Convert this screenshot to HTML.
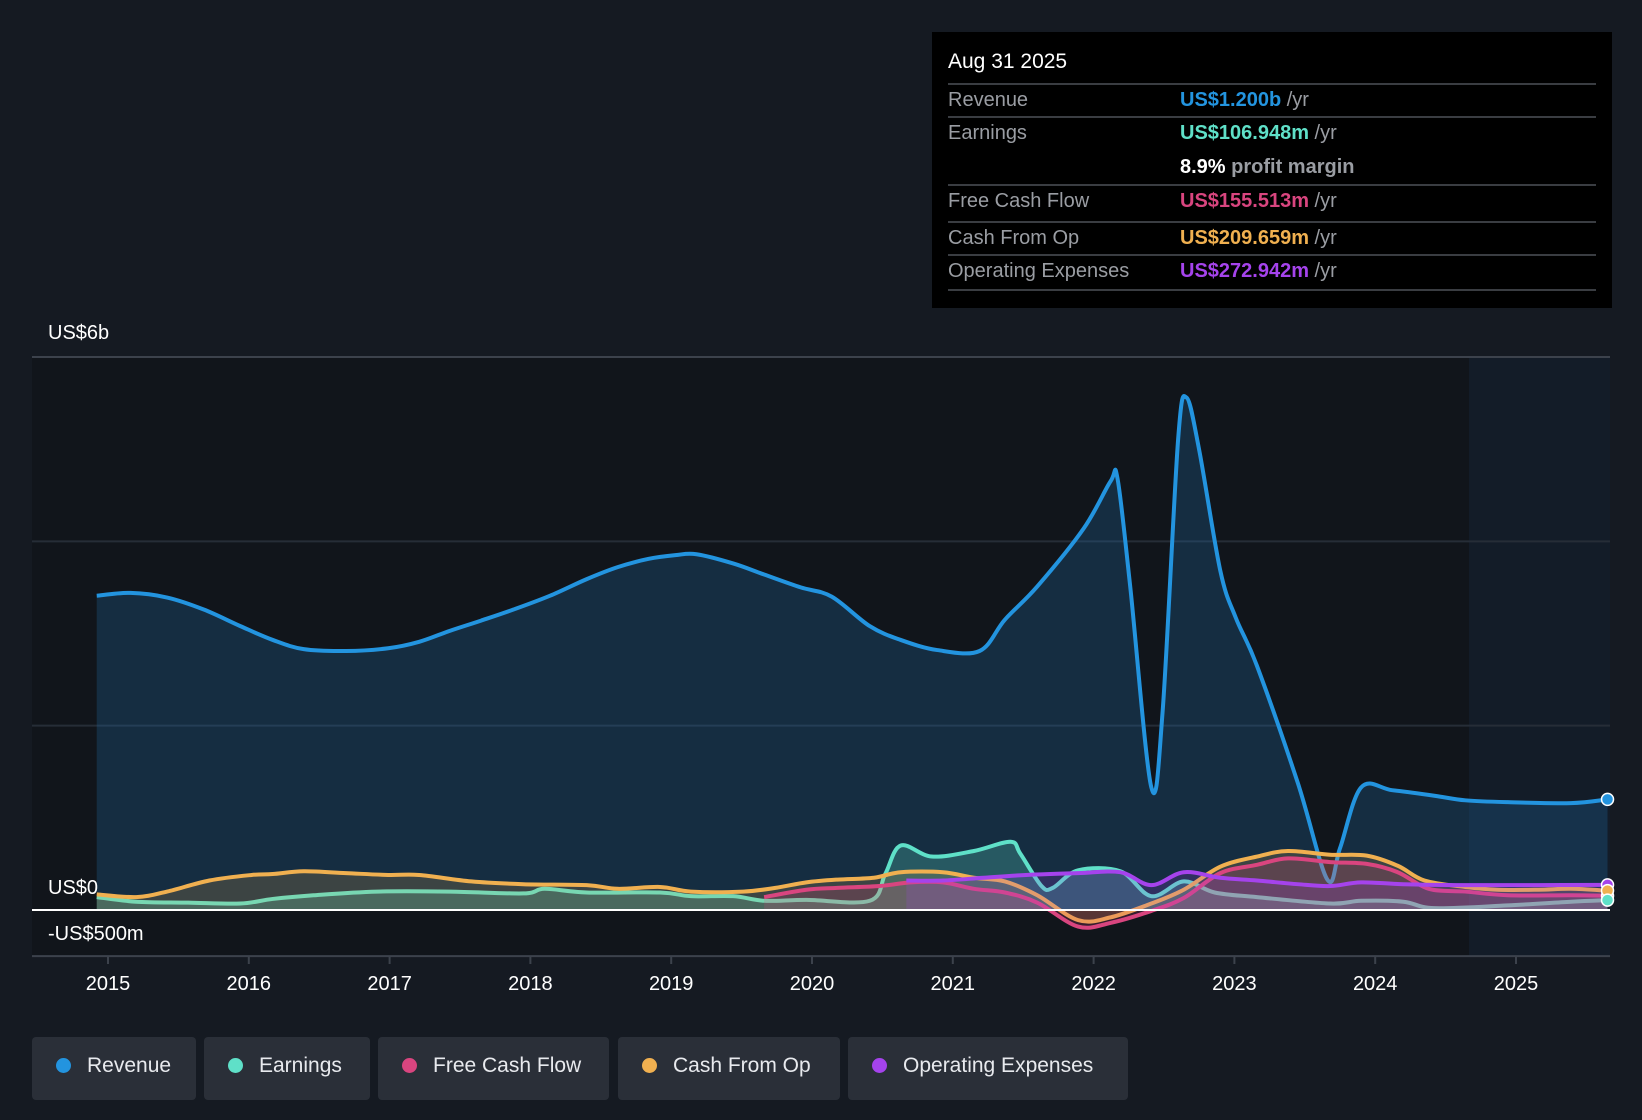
<!DOCTYPE html>
<html><head><meta charset="utf-8"><style>
body{margin:0;background:#151a22;width:1642px;height:1120px;overflow:hidden;font-family:"Liberation Sans",sans-serif;}
#tt{position:absolute;left:932px;top:32px;width:680px;height:276px;background:#000;}
.row{position:absolute;left:16px;width:648px;border-top:2px solid #3a3d42;font-size:20px;color:#9a9da3;}
.lab{position:absolute;left:0;} .val{position:absolute;left:232px;}
.leg{position:absolute;top:1037px;height:63px;background:#2a2f38;border-radius:4px;color:#e8eaee;font-size:21px;line-height:57px;}
.dot{display:inline-block;width:15px;height:15px;border-radius:50%;margin:0 16px 0 24px;vertical-align:-1px;}
</style></head><body>
<svg id="chart" width="1642" height="1120" style="position:absolute;left:0;top:0"></svg>
<div id="tt">
 <div style="position:absolute;left:16px;top:18px;color:#fff;font-size:21px">Aug 31 2025</div>
 <div class="row" style="top:51px;height:32px"><span class="lab" style="top:4px">Revenue</span><span class="val" style="top:4px"><b style="color:#2394df">US$1.200b</b> /yr</span></div>
 <div class="row" style="top:84px;height:66px"><span class="lab" style="top:4px">Earnings</span><span class="val" style="top:4px"><b style="color:#5fe0c8">US$106.948m</b> /yr</span><span class="val" style="top:38px"><b style="color:#fff">8.9%</b> <b>profit margin</b></span></div>
 <div class="row" style="top:152px;height:34px"><span class="lab" style="top:4px">Free Cash Flow</span><span class="val" style="top:4px"><b style="color:#d9457f">US$155.513m</b> /yr</span></div>
 <div class="row" style="top:189px;height:31px"><span class="lab" style="top:4px">Cash From Op</span><span class="val" style="top:4px"><b style="color:#f0b050">US$209.659m</b> /yr</span></div>
 <div class="row" style="top:222px;height:35px"><span class="lab" style="top:4px">Operating Expenses</span><span class="val" style="top:4px"><b style="color:#a543ec">US$272.942m</b> /yr</span></div>
 <div class="row" style="top:257px;height:0"></div>
</div>
<div class="leg" style="left:32px;width:164px"><span class="dot" style="background:#2394df"></span>Revenue</div>
<div class="leg" style="left:204px;width:166px"><span class="dot" style="background:#5fe0c8"></span>Earnings</div>
<div class="leg" style="left:378px;width:231px"><span class="dot" style="background:#d9457f"></span>Free Cash Flow</div>
<div class="leg" style="left:618px;width:222px"><span class="dot" style="background:#f0b050"></span>Cash From Op</div>
<div class="leg" style="left:848px;width:280px"><span class="dot" style="background:#a543ec"></span>Operating Expenses</div>
<script>
const revYears=[2014.92,2015.16,2015.42,2015.68,2015.94,2016.17,2016.39,2016.69,2016.99,2017.21,2017.43,2017.65,2017.88,2018.14,2018.40,2018.62,2018.84,2019.03,2019.18,2019.44,2019.66,2019.92,2020.14,2020.41,2020.63,2020.89,2021.19,2021.37,2021.60,2021.93,2022.12,2022.17,2022.26,2022.41,2022.49,2022.60,2022.66,2022.75,2022.90,2023.01,2023.16,2023.45,2023.66,2023.75,2023.90,2024.12,2024.42,2024.64,2024.94,2025.39,2025.65];
const revValues=[3.41,3.44,3.39,3.26,3.08,2.93,2.83,2.81,2.84,2.91,3.03,3.14,3.26,3.41,3.59,3.72,3.81,3.85,3.86,3.76,3.64,3.50,3.40,3.08,2.93,2.82,2.81,3.15,3.51,4.14,4.65,4.68,3.51,1.33,2.15,5.10,5.56,4.99,3.68,3.17,2.65,1.38,0.33,0.67,1.33,1.30,1.24,1.19,1.17,1.16,1.20];
const earnYears=[2014.92,2015.20,2015.57,2015.94,2016.17,2016.46,2016.91,2017.43,2017.95,2018.10,2018.40,2018.92,2019.14,2019.44,2019.66,2019.96,2020.41,2020.52,2020.63,2020.85,2021.15,2021.41,2021.48,2021.63,2021.71,2021.89,2022.19,2022.41,2022.64,2022.86,2023.16,2023.68,2023.90,2024.20,2024.42,2024.94,2025.39,2025.65];
const earnValues=[0.14,0.09,0.08,0.07,0.12,0.16,0.2,0.2,0.18,0.23,0.19,0.19,0.15,0.15,0.1,0.11,0.1,0.39,0.7,0.58,0.64,0.74,0.61,0.26,0.24,0.43,0.42,0.15,0.31,0.19,0.14,0.07,0.1,0.09,0.02,0.05,0.09,0.107];
const cfoYears=[2014.92,2015.20,2015.42,2015.72,2016.02,2016.17,2016.39,2016.69,2016.99,2017.21,2017.58,2017.95,2018.40,2018.62,2018.92,2019.14,2019.51,2019.74,2019.96,2020.18,2020.44,2020.63,2020.93,2021.15,2021.37,2021.60,2021.89,2022.12,2022.41,2022.64,2022.90,2023.16,2023.38,2023.68,2023.94,2024.16,2024.35,2024.64,2024.87,2025.16,2025.39,2025.65];
const cfoValues=[0.17,0.14,0.2,0.32,0.38,0.39,0.42,0.4,0.38,0.38,0.31,0.28,0.27,0.23,0.25,0.2,0.2,0.24,0.3,0.33,0.35,0.41,0.41,0.35,0.31,0.16,-0.11,-0.08,0.07,0.22,0.47,0.58,0.64,0.6,0.59,0.48,0.32,0.25,0.22,0.22,0.23,0.21];
const fcfYears=[2019.66,2019.96,2020.18,2020.48,2020.70,2020.93,2021.15,2021.37,2021.60,2021.89,2022.12,2022.41,2022.64,2022.90,2023.16,2023.38,2023.68,2023.94,2024.16,2024.38,2024.64,2024.94,2025.39,2025.65];
const fcfValues=[0.14,0.22,0.24,0.26,0.3,0.3,0.23,0.19,0.08,-0.18,-0.14,-0.01,0.13,0.4,0.49,0.56,0.52,0.5,0.41,0.23,0.2,0.16,0.16,0.155];
const opxYears=[2020.67,2020.93,2021.22,2021.52,2021.89,2022.19,2022.41,2022.64,2022.90,2023.16,2023.45,2023.68,2023.90,2024.20,2024.64,2025.16,2025.65];
const opxValues=[0.32,0.32,0.35,0.38,0.4,0.41,0.27,0.41,0.35,0.32,0.28,0.26,0.3,0.28,0.27,0.27,0.273];
const tickYears=[2015,2016,2017,2018,2019,2020,2021,2022,2023,2024,2025];
const yTicks=[6,4,2,0,-0.5];

const NS="http://www.w3.org/2000/svg";
const svg=document.getElementById('chart');
const X=y=>108+(y-2015)*140.8;
const Y=v=>910-v*92.17;
function mk(t,a,p){const e=document.createElementNS(NS,t);for(const k in a)e.setAttribute(k,a[k]);(p||svg).appendChild(e);return e;}
function path(xs,vs){const p=xs.map((x,i)=>[X(x),Y(vs[i])]);let d=`M${p[0][0]},${p[0][1]}`;
 for(let i=0;i<p.length-1;i++){const p0=p[i-1]||p[i],p1=p[i],p2=p[i+1],p3=p[i+2]||p2;
  d+=`C${p1[0]+(p2[0]-p0[0])/6},${p1[1]+(p2[1]-p0[1])/6} ${p2[0]-(p3[0]-p1[0])/6},${p2[1]-(p3[1]-p1[1])/6} ${p2[0]},${p2[1]}`;}
 return d;}
let bg=mk('rect',{x:32,y:357,width:1578,height:599,fill:'#11151b'});


let fut=mk('rect',{x:1469,y:357,width:141,height:599,fill:'#131c28'});


yTicks.forEach(v=>{if(v===0)return;let l=mk('line',{x1:32,x2:1610,y1:Y(v),y2:Y(v),stroke:v===6||v===-0.5?'#3c424c':'#262d37','stroke-width':2});
 
 });
const series=[[revYears,revValues,'#2394df','rgba(35,110,170,0.27)','revenue'],[earnYears,earnValues,'#5fe0c8','rgba(95,224,200,0.25)','earnings'],[cfoYears,cfoValues,'#f0b050','rgba(240,176,80,0.18)','cash-from-op'],[fcfYears,fcfValues,'#d9457f','rgba(217,69,127,0.2)','free-cash-flow'],[opxYears,opxValues,'#a543ec','rgba(165,67,236,0.18)','operating-expenses']];
series.forEach(([xs,vs,c,f,n])=>{const d=path(xs,vs);
 let a=mk('path',{d:d+`L${X(xs[xs.length-1])},${Y(0)}L${X(xs[0])},${Y(0)}Z`,fill:f});
 
 
 let l=mk('path',{d,fill:'none',stroke:c,'stroke-width':4,'stroke-linejoin':'round'});
 
 });
series.slice().reverse().forEach(([xs,vs,c,f,n])=>{let m=mk('circle',{cx:X(xs[xs.length-1]),cy:Y(vs[vs.length-1]),r:6,fill:c,stroke:'#fff','stroke-width':1.5});
 
 });
let z=mk('line',{x1:32,x2:1610,y1:Y(0),y2:Y(0),stroke:'#fff','stroke-width':2});


[['US$6b',Y(6)-18],['US$0',Y(0)-16],['-US$500m',Y(0)+30]].forEach(([t,y])=>{let e=mk('text',{x:48,y,fill:'#fff','font-size':20});e.textContent=t;
 
 });
tickYears.forEach(y=>{let t=mk('line',{x1:X(y),x2:X(y),y1:956,y2:964,stroke:'#3c424c','stroke-width':2});
 
 
 let e=mk('text',{x:X(y),y:990,fill:'#fff','font-size':20,'text-anchor':'middle'});e.textContent=y;
 
 });
</script>
</body></html>
